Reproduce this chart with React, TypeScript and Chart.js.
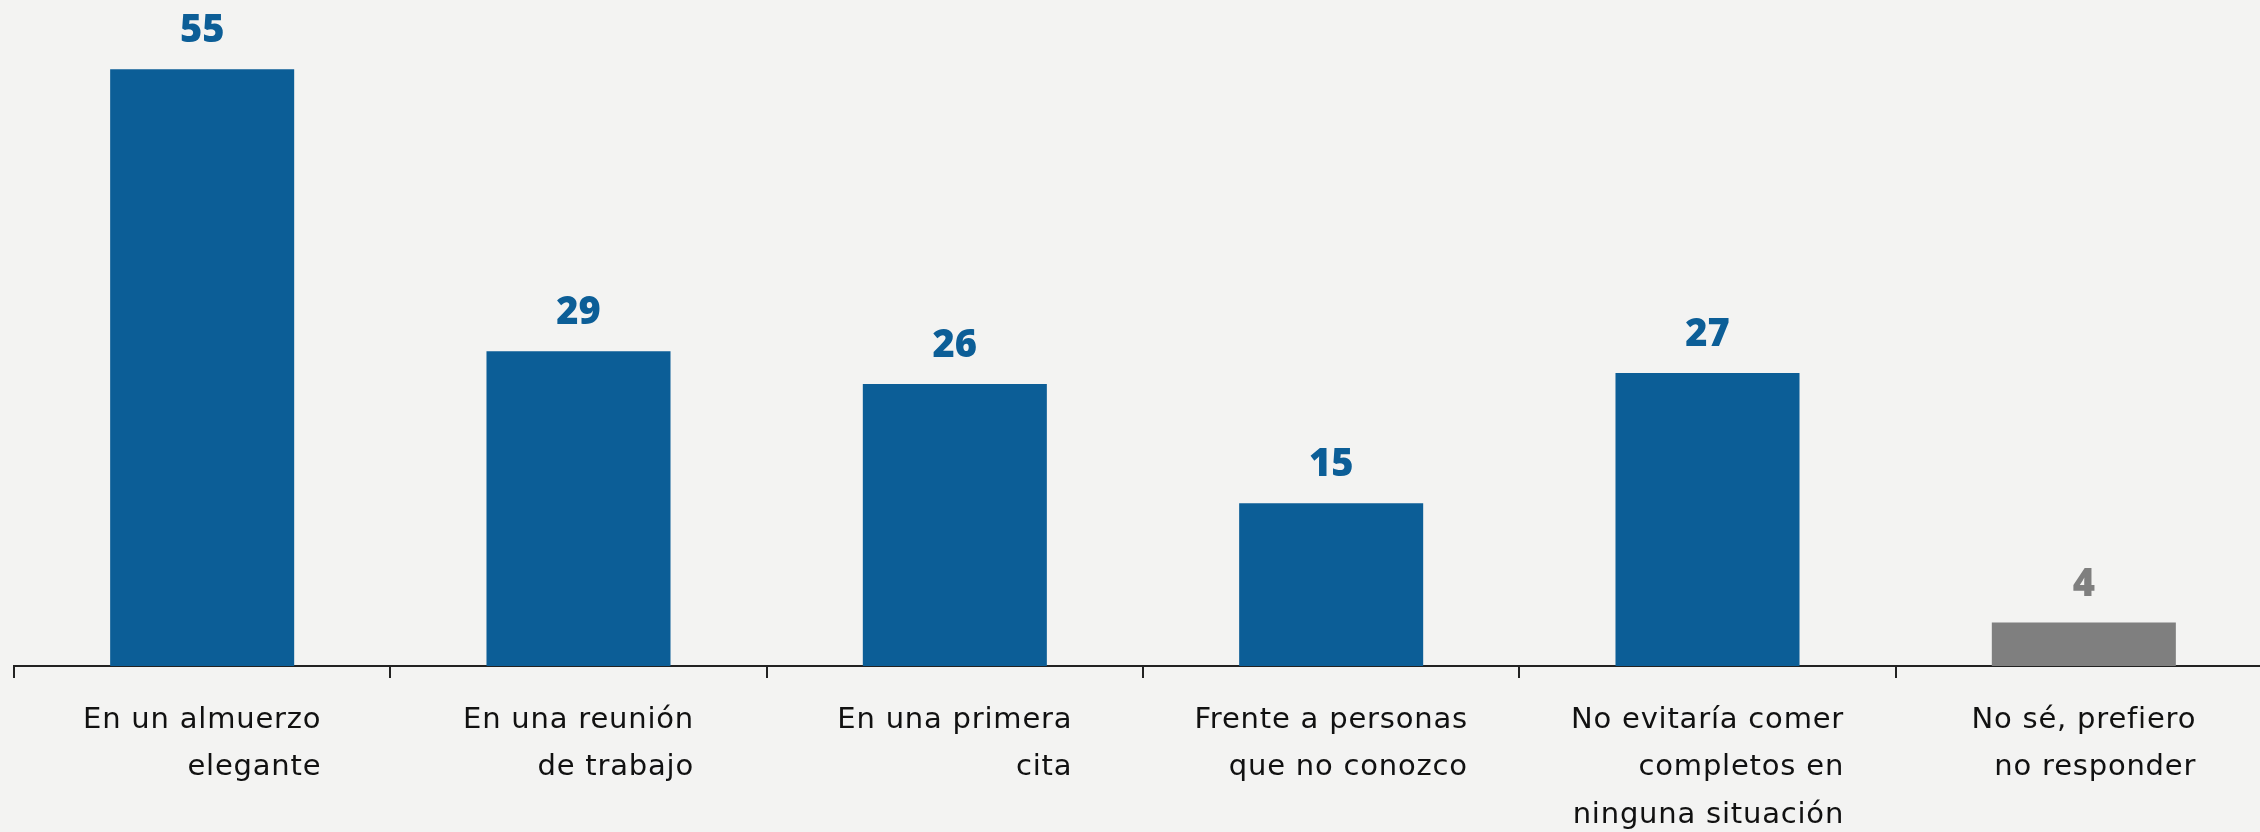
import React, { useEffect, useRef } from "react";
import { Chart, registerables } from "chart.js";

Chart.register(...registerables);

const categories: string[][] = [
  ["En un almuerzo", "elegante"],
  ["En una reunión", "de trabajo"],
  ["En una primera", "cita"],
  ["Frente a personas", "que no conozco"],
  ["No evitaría comer", "completos en", "ninguna situación"],
  ["No sé, prefiero", "no responder"],
];
const values: number[] = [55, 29, 26, 15, 27, 4];
const barColors: string[] = ["#0c5e97", "#0c5e97", "#0c5e97", "#0c5e97", "#0c5e97", "#7f7f7f"];
const yMax = 60;

const LABEL_FONT = '400 29px "DejaVu Sans"';
const VALUE_FONT = '800 38px "Open Sans"';

const valueLabels = {
  id: "valueLabels",
  afterDatasetsDraw(chart: any) {
    const ctx = chart.ctx;
    const meta = chart.getDatasetMeta(0);
    ctx.save();
    ctx.font = VALUE_FONT;
    ctx.textAlign = "center";
    ctx.textBaseline = "alphabetic";
    meta.data.forEach((el: any, i: number) => {
      ctx.fillStyle = barColors[i];
      ctx.fillText(String(values[i]), el.x, el.y - 27);
    });
    ctx.restore();
  },
};

const rightAlignedTicks = {
  id: "rightAlignedTicks",
  afterDraw(chart: any) {
    const ctx = chart.ctx;
    const scale = chart.scales.x;
    const y0 = chart.chartArea.bottom + 54;
    const lh = 47.5;
    ctx.save();
    ctx.font = LABEL_FONT;
    try {
      (ctx as any).letterSpacing = "0.8px";
    } catch (e) {}
    ctx.fillStyle = "#111111";
    ctx.textAlign = "right";
    ctx.textBaseline = "middle";
    categories.forEach((lines, i) => {
      const cx = scale.getPixelForValue(i);
      const maxW = Math.max(...lines.map((l) => ctx.measureText(l).width));
      lines.forEach((line, k) => {
        ctx.fillText(line, cx + maxW / 2, y0 + k * lh);
      });
    });
    ctx.restore();
  },
};

export default function App() {
  const ref = useRef<HTMLCanvasElement>(null);
  useEffect(() => {
    if (!ref.current) return;
    const chart = new Chart(ref.current, {
      type: "bar",
      data: {
        labels: categories.map((c) => c.join(" ")),
        datasets: [
          {
            data: values,
            backgroundColor: barColors,
            borderWidth: 0,
            categoryPercentage: 1,
            barPercentage: 0.489,
          },
        ],
      },
      options: {
        animation: false,
        responsive: false,
        maintainAspectRatio: false,
        devicePixelRatio: 1,
        layout: { padding: { left: 14, right: 18, top: 15, bottom: 154 } },
        plugins: { legend: { display: false }, tooltip: { enabled: false } },
        scales: {
          x: {
            grid: {
              display: true,
              drawOnChartArea: false,
              drawTicks: true,
              tickLength: 12,
              color: "#222222",
              lineWidth: 2,
            },
            border: { display: true, color: "#222222", width: 2 },
            ticks: { display: false },
          },
          y: { display: false, min: 0, max: yMax },
        },
      },
      plugins: [valueLabels, rightAlignedTicks],
    });
    return () => chart.destroy();
  }, []);
  return (
    <div
      style={{
        position: "fixed",
        left: 0,
        top: 0,
        width: 2260,
        height: 832,
        overflow: "hidden",
        background: "#f3f3f2",
      }}
    >
      <canvas ref={ref} width={2290} height={832} style={{ width: 2290, height: 832, display: "block" }} />
    </div>
  );
}
